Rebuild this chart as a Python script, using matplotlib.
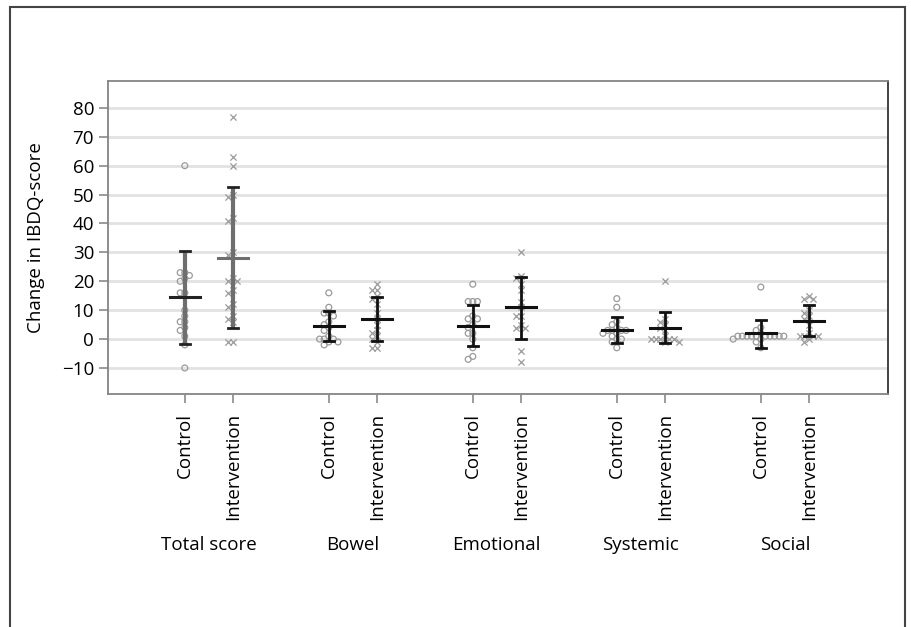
import numpy as np
import matplotlib
matplotlib.use('Agg')
import matplotlib.pyplot as plt
import matplotlib.patches as patches
import matplotlib.transforms as mtransforms

plt.rcParams['font.family'] = ['Open Sans', 'DejaVu Sans']

# Groups and arms
domains = ['Total score', 'Bowel', 'Emotional', 'Systemic', 'Social']
arms = ['Control', 'Intervention']

# Individual changes in IBDQ score
total_control = [60, 23, 23, 22, 21, 20, 16, 16, 10, 8, 6, 6, 4, 3, 1, -2, -10]
total_interv = [77, 63, 60, 50, 49, 42, 41, 30, 29, 21, 20, 20, 17, 16, 12, 11, 8, 7, 6, -1, -1]
bowel_control = [16, 11, 9, 9, 8, 6, 5, 4, 3, 1, 0, 0, 0, -1, -1, -2]
bowel_interv = [19, 17, 17, 15, 14, 12, 9, 7, 5, 3, 2, 1, 0, -1, -3, -3]
emo_control = [19, 13, 13, 13, 8, 7, 7, 5, 4, 2, 2, 0, -3, -6, -7]
emo_interv = [30, 22, 21, 19, 17, 13, 11, 8, 8, 5, 4, 4, -4, -8]
sys_control = [14, 11, 6, 5, 4, 3, 3, 3, 3, 2, 2, 1, 0, 0, -1, -3]
sys_interv = [20, 7, 6, 5, 4, 3, 1, 0, 0, 0, 0, 0, -1, -1]
soc_control = [18, 4, 3, 2, 1, 1, 1, 1, 1, 1, 1, 1, 1, 1, 0, 0, -1, -3]
soc_interv = [15, 14, 14, 10, 9, 8, 7, 5, 2, 1, 1, 1, 1, 0, -1]

# Mean and +/- SD bars as drawn
means = [14.5, 28.2, 4.5, 6.8, 4.7, 11.1, 3.1, 3.9, 2.0, 6.2]
bar_low = [-1.7, 3.7, -0.6, -0.8, -2.4, 0.2, -1.3, -1.5, -3.2, 1.0]
bar_high = [30.5, 52.7, 9.8, 14.4, 11.9, 21.5, 7.7, 9.4, 6.6, 11.7]

yticks = [-10, 0, 10, 20, 30, 40, 50, 60, 70, 80]

series = [total_control, total_interv, bowel_control, bowel_interv,
          emo_control, emo_interv, sys_control, sys_interv,
          soc_control, soc_interv]

fig = plt.figure(figsize=(9.11, 6.27), dpi=100)
ax = fig.add_axes([108/911, 1-394/627, 780/911, 313/627])

xlim = (-1.6, 14.65)
ylim = (-19.0, 89.3)
ax.set_xlim(*xlim)
ax.set_ylim(*ylim)

# pixel scale for the swarm layout
px_x = 780 / (xlim[1] - xlim[0])
px_y = 313 / (ylim[1] - ylim[0])


def swarm(values, diam=4.6):
    placed = []
    for v in values:
        k = 0
        while True:
            cands = [0] if k == 0 else [-k, k]
            ok = None
            for c in cands:
                off = c * diam
                if all(np.hypot(off - o, (v - w) * px_y) >= diam for o, w in placed):
                    ok = off
                    break
            if ok is not None:
                placed.append((ok, v))
                break
            k += 1
    return [o / px_x for o, _ in placed]


positions = []
for g in range(len(domains)):
    positions += [3 * g, 3 * g + 1]

for i, (pos, vals) in enumerate(zip(positions, series)):
    offs = swarm(vals)
    xs = [pos + o for o in offs]
    if i % 2 == 0:
        ax.scatter(xs, vals, s=18, facecolors='none', edgecolors='#9a9a9a',
                   linewidths=0.9, zorder=3)
    else:
        ax.scatter(xs, vals, s=20, marker='x', color='#9a9a9a',
                   linewidths=0.9, zorder=3)

    if i < 2:
        vcol, ccol, mcol, lw = '#6e6e6e', '#222222', ('#222222' if i == 0 else '#6e6e6e'), 3
    else:
        vcol, ccol, mcol, lw = '#111111', '#111111', '#111111', 2
    ax.plot([pos, pos], [bar_low[i], bar_high[i]], color=vcol, lw=lw, zorder=4,
            solid_capstyle='butt')
    for yy in (bar_low[i], bar_high[i]):
        ax.plot([pos - 0.11, pos + 0.11], [yy, yy], color=ccol, lw=2, zorder=5)
    ax.plot([pos - 0.31, pos + 0.31], [means[i], means[i]], color=mcol, lw=2.2, zorder=5)

ax.set_yticks(yticks)
ax.set_yticklabels([str(t).replace('-', '\u2212') for t in yticks])
ax.set_xticks(positions)
ax.set_xticklabels(arms * len(domains), rotation=90, va='top', ha='center')
ax.tick_params(axis='both', colors='#8a8a8a', labelcolor='black', labelsize=13.5,
               length=6.5, width=1.2)
ax.tick_params(axis='x', pad=7)
ax.tick_params(axis='y', pad=3.5)

ax.grid(axis='y', color='#e2e2e2', lw=2)
ax.set_axisbelow(True)
for side in ['left', 'top', 'bottom']:
    ax.spines[side].set_color('#858585')
    ax.spines[side].set_linewidth(1.3)
ax.spines['right'].set_color('#333333')
ax.spines['right'].set_linewidth(1.3)

ax.set_ylabel('Change in IBDQ-score', fontsize=13.5)
ax.yaxis.set_label_coords(-0.081, 0.5)

blend = mtransforms.blended_transform_factory(ax.transData, fig.transFigure)
for g, name in enumerate(domains):
    ax.text(3 * g + 0.5, 1 - 545/627, name, fontsize=13.5, ha='center', va='center',
            transform=blend)

# outer frame around the figure
fig.patches.append(patches.Rectangle((10/911, -0.05), 895/911, 1.05 - 7/627,
                                     transform=fig.transFigure, fill=False,
                                     edgecolor='#444444', lw=1.5))

fig.savefig('out.png', dpi=100)
